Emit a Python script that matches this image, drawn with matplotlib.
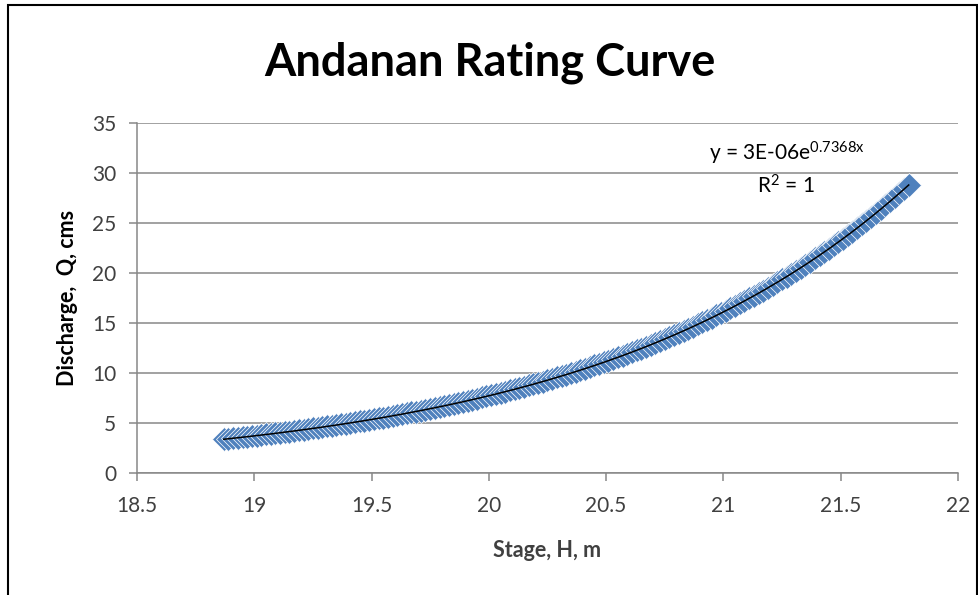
import matplotlib.pyplot as plt
import numpy as np
from matplotlib.patches import Rectangle

# gauged stage (m) and discharge (cms)
stage = [
    18.87, 18.89, 18.91, 18.93, 18.95, 18.97, 18.99, 19.01, 19.03, 19.05,
    19.07, 19.09, 19.11, 19.13, 19.15, 19.17, 19.19, 19.21, 19.23, 19.25,
    19.27, 19.29, 19.31, 19.33, 19.35, 19.37, 19.39, 19.41, 19.43, 19.45,
    19.47, 19.49, 19.51, 19.53, 19.55, 19.57, 19.59, 19.61, 19.63, 19.65,
    19.67, 19.69, 19.71, 19.73, 19.75, 19.77, 19.79, 19.81, 19.83, 19.85,
    19.87, 19.89, 19.91, 19.93, 19.95, 19.97, 19.99, 20.01, 20.03, 20.05,
    20.07, 20.09, 20.11, 20.13, 20.15, 20.17, 20.19, 20.21, 20.23, 20.25,
    20.27, 20.29, 20.31, 20.33, 20.35, 20.37, 20.39, 20.41, 20.43, 20.45,
    20.47, 20.49, 20.51, 20.53, 20.55, 20.57, 20.59, 20.61, 20.63, 20.65,
    20.67, 20.69, 20.71, 20.73, 20.75, 20.77, 20.79, 20.81, 20.83, 20.85,
    20.87, 20.89, 20.91, 20.93, 20.95, 20.97, 20.99, 21.01, 21.03, 21.05,
    21.07, 21.09, 21.11, 21.13, 21.15, 21.17, 21.19, 21.21, 21.23, 21.25,
    21.27, 21.29, 21.31, 21.33, 21.35, 21.37, 21.39, 21.41, 21.43, 21.45,
    21.47, 21.49, 21.51, 21.53, 21.55, 21.57, 21.59, 21.61, 21.63, 21.65,
    21.67, 21.69, 21.71, 21.73, 21.75, 21.77, 21.79,
]
discharge = [
    3.35, 3.40, 3.45, 3.50, 3.56, 3.61, 3.66, 3.72, 3.77, 3.83,
    3.88, 3.94, 4.00, 4.06, 4.12, 4.18, 4.24, 4.31, 4.37, 4.44,
    4.50, 4.57, 4.64, 4.70, 4.77, 4.85, 4.92, 4.99, 5.06, 5.14,
    5.22, 5.29, 5.37, 5.45, 5.53, 5.61, 5.70, 5.78, 5.87, 5.96,
    6.04, 6.13, 6.22, 6.32, 6.41, 6.51, 6.60, 6.70, 6.80, 6.90,
    7.00, 7.11, 7.21, 7.32, 7.43, 7.54, 7.65, 7.76, 7.88, 8.00,
    8.12, 8.24, 8.36, 8.48, 8.61, 8.74, 8.87, 9.00, 9.13, 9.27,
    9.40, 9.54, 9.68, 9.83, 9.97, 10.12, 10.27, 10.43, 10.58, 10.74,
    10.90, 11.06, 11.22, 11.39, 11.56, 11.73, 11.90, 12.08, 12.26, 12.44,
    12.63, 12.81, 13.00, 13.20, 13.39, 13.59, 13.79, 14.00, 14.21, 14.42,
    14.63, 14.85, 15.07, 15.29, 15.52, 15.75, 15.98, 16.22, 16.46, 16.71,
    16.95, 17.21, 17.46, 17.72, 17.98, 18.25, 18.52, 18.80, 19.08, 19.36,
    19.65, 19.94, 20.23, 20.53, 20.84, 21.15, 21.46, 21.78, 22.10, 22.43,
    22.77, 23.10, 23.45, 23.79, 24.15, 24.51, 24.87, 25.24, 25.61, 25.99,
    26.38, 26.77, 27.17, 27.57, 27.98, 28.40, 28.82,
]
x_ticks = [18.5, 19, 19.5, 20, 20.5, 21, 21.5, 22]
y_ticks = [0, 5, 10, 15, 20, 25, 30, 35]

TEXT = "#404040"
GRID = "#878787"
BLUE = "#4F81BD"

plt.rcParams["font.family"] = ["Lato", "DejaVu Sans"]
plt.rcParams["mathtext.fontset"] = "custom"
plt.rcParams["mathtext.rm"] = "Lato"
plt.rcParams["mathtext.it"] = "Lato"

h = np.asarray(stage)
q = np.asarray(discharge)

# exponential trendline Q = a * exp(b * H), fitted in log space
b, ln_a = np.polyfit(h, np.log(q), 1)
a = np.exp(ln_a)
resid = np.log(q) - (ln_a + b * h)
r2 = 1 - np.sum(resid**2) / np.sum((np.log(q) - np.log(q).mean()) ** 2)

fig = plt.figure(figsize=(9.79, 5.95), dpi=100)
ax = fig.add_axes([0.1399, 0.2055, 0.8386, 0.5873])

ax.plot(h, q, linestyle="none", marker="D", markersize=12.5,
        markerfacecolor=BLUE, markeredgecolor="white", markeredgewidth=0.5,
        zorder=3)
hh = np.linspace(h.min(), h.max(), 200)
ax.plot(hh, a * np.exp(b * hh), color="black", linewidth=1.1, zorder=4)

ax.set_xlim(18.5, 22)
ax.set_ylim(0, 35)
ax.set_xticks(x_ticks)
ax.set_xticklabels([f"{t:g}" for t in x_ticks])
ax.set_yticks(y_ticks)
ax.grid(True, axis="y", color=GRID, linewidth=1.1)
ax.set_axisbelow(True)
ax.spines[["top", "right"]].set_visible(False)
ax.spines[["left", "bottom"]].set_color(GRID)
ax.spines[["left", "bottom"]].set_linewidth(1.1)
ax.tick_params(direction="out", length=6, width=1.1, color=GRID,
               labelcolor=TEXT, labelsize=15)
ax.tick_params(axis="x", pad=11)
ax.tick_params(axis="y", pad=9)

ax.set_xlabel("Stage, H, m", fontsize=15.5, fontweight="bold", color=TEXT,
              labelpad=17)
ax.set_ylabel("Discharge,  Q, cms", fontsize=15.5, fontweight="bold",
              color="black", labelpad=10)

fig.text(0.5, 1 - 75 / 595, "Andanan Rating Curve", ha="center",
         va="baseline", fontsize=32.5, fontweight="bold", color="black")

# trendline equation label
ax.text(21.27, 31.95, f"y = {a:.0E}e$^{{{b:.4f}x}}$", ha="center",
        va="center", fontsize=15, color="black")
ax.text(21.265, 28.7, f"R$^2$ = {r2:.0f}", ha="center", va="center",
        fontsize=15, color="black")

# outer chart frame
fig.patches.append(Rectangle((8 / 979, -0.05), 969 / 979, 1 - 5 / 595 + 0.05,
                             transform=fig.transFigure, fill=False,
                             edgecolor="black", linewidth=1.5))

fig.savefig("out.png", dpi=100)
